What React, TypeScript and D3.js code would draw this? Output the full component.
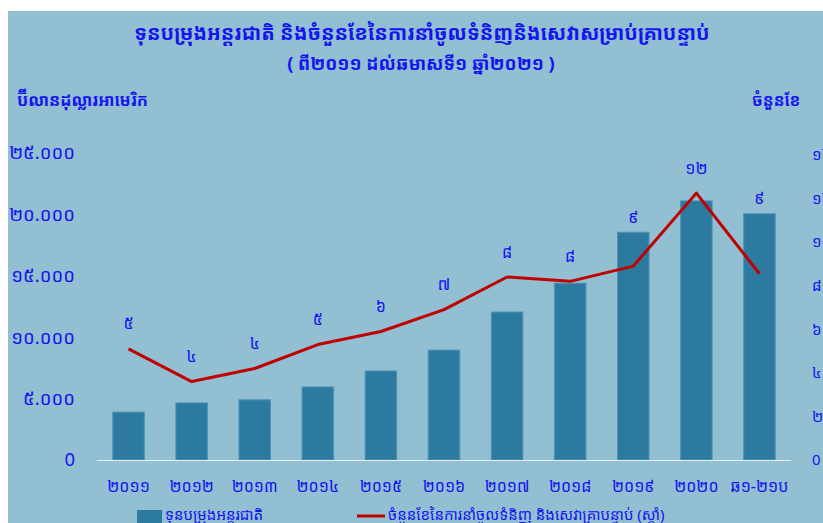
import React from "react";
import { scaleBand, scaleLinear, line } from "d3";

// Data
const years = ["២០១១", "២០១២", "២០១៣", "២០១៤", "២០១៥", "២០១៦", "២០១៧", "២០១៨", "២០១៩", "២០២០", "ឆ១-២១ប"];
const reserves = [3900, 4650, 4900, 5950, 7250, 8950, 12050, 14400, 18550, 21100, 20050];
const months = [5.1, 3.6, 4.2, 5.3, 5.9, 6.9, 8.4, 8.2, 8.9, 12.25, 8.55];
const monthLabels = ["៥", "៤", "៤", "៥", "៦", "៧", "៨", "៨", "៩", "១២", "៩"];
const leftTicks = [0, 5000, 10000, 15000, 20000, 25000];
const rightTicks = [0, 2, 4, 6, 8, 10, 12, 14];

const title = "ទុនបម្រុងអន្តរជាតិ និងចំនួនខែនៃការនាំចូលទំនិញនិងសេវាសម្រាប់គ្រាបន្ទាប់";
const subtitle = "( ពី២០១១ ដល់ឆមាសទី១ ឆ្នាំ២០២១ )";
const leftTitle = "ប៊ីលានដុល្លារអាមេរិក";
const rightTitle = "ចំនួនខែ";
const barLegend = "ទុនបម្រុងអន្តរជាតិ";
const lineLegend = "ចំនួនខែនៃការនាំចូលទំនិញ និងសេវាគ្រាបន្ទាប់ (ស្តាំ)";

const khmerDigits = "០១២៣៤៥៦៧៨៩";
const toKhmer = (s: string) => s.replace(/[0-9]/g, (d) => khmerDigits[+d]);
const fmtLeft = (v: number) =>
  v === 0 ? "0" : toKhmer(String(v).replace(/\B(?=(\d{3})+(?!\d))/g, "."));
const fmtRight = (v: number) => (v === 0 ? "0" : toKhmer(String(v)));

const W = 823;
const H = 523;
const BLUE = "#1414f0";
const FONT = "'Noto Sans Khmer', 'Khmer OS', 'Khmer OS System', 'Noto Sans', sans-serif";

const App: React.FC = () => {
  const x = scaleBand<string>()
    .domain(years)
    .range([97, 791])
    .paddingInner(0.5)
    .paddingOuter(0.25);
  const yL = scaleLinear().domain([0, 25000]).range([460, 153]);
  const yR = scaleLinear().domain([0, 14]).range([460, 155]);
  const cx = (c: string) => x(c)! + x.bandwidth() / 2;

  const path = line<number>()
    .x((_, i) => cx(years[i]))
    .y((d) => yR(d))(months);

  // label sits above the line point, or above the bar when the bar is taller
  const labelY = (i: number) => Math.min(yR(months[i]) - 25, yL(reserves[i]) - 15);

  return (
    <>
      <style>{`body{margin:0;overflow:hidden}`}</style>
      <svg width={W} height={H} style={{ display: "block", fontFamily: FONT }}>
        <rect width={W} height={H} fill="#ffffff" />
        <rect x={8} y={11} width={W - 8} height={H - 11} fill="#92bfd1" />

        {/* Titles */}
        <text x={422} y={40} textAnchor="middle" fill={BLUE} fontSize={20} fontWeight="bold">
          {title}
        </text>
        <text x={421} y={70} textAnchor="middle" fill={BLUE} fontSize={18} fontWeight="bold">
          {subtitle}
        </text>
        <text x={17} y={106} fill={BLUE} fontSize={16.5} fontWeight="bold">
          {leftTitle}
        </text>
        <text x={752} y={106} fill={BLUE} fontSize={16} fontWeight="bold">
          {rightTitle}
        </text>

        {/* Left axis */}
        {leftTicks.map((t) => (
          <text key={t} x={75} y={yL(t)} dy="0.35em" textAnchor="end" fill={BLUE} fontSize={18.5}>
            {fmtLeft(t)}
          </text>
        ))}

        {/* Right axis */}
        {rightTicks.map((t) => (
          <text key={t} x={812} y={yR(t)} dy="0.35em" textAnchor="start" fill={BLUE} fontSize={15}>
            {fmtRight(t)}
          </text>
        ))}

        {/* Bars */}
        {reserves.map((v, i) => (
          <rect
            key={i}
            x={x(years[i])}
            y={yL(v)}
            width={x.bandwidth()}
            height={yL(0) - yL(v)}
            fill="#2c7aa0"
            stroke="#4f94b6"
            strokeWidth={1}
          />
        ))}

        {/* Baseline */}
        <line x1={97} x2={791} y1={460.5} y2={460.5} stroke="#e8eef2" strokeWidth={1} />

        {/* Line */}
        <path d={path ?? ""} fill="none" stroke="#c00000" strokeWidth={3} strokeLinejoin="round" />

        {/* Line labels */}
        {months.map((_, i) => (
          <text
            key={i}
            x={cx(years[i])}
            y={labelY(i)}
            dy="0.35em"
            textAnchor="middle"
            fill={BLUE}
            fontSize={16}
          >
            {monthLabels[i]}
          </text>
        ))}

        {/* Category labels */}
        {years.map((c) => (
          <text key={c} x={cx(c)} y={486} dy="0.35em" textAnchor="middle" fill={BLUE} fontSize={16}>
            {c}
          </text>
        ))}

        {/* Legend */}
        <rect x={137} y={510} width={25} height={13} fill="#2c7aa0" />
        <text x={165} y={515} dy="0.35em" fill={BLUE} fontSize={15}>
          {barLegend}
        </text>
        <line x1={357} x2={385} y1={516} y2={516} stroke="#c00000" strokeWidth={3} />
        <text x={388} y={515} dy="0.35em" fill={BLUE} fontSize={15}>
          {lineLegend}
        </text>
      </svg>
    </>
  );
};

export default App;
